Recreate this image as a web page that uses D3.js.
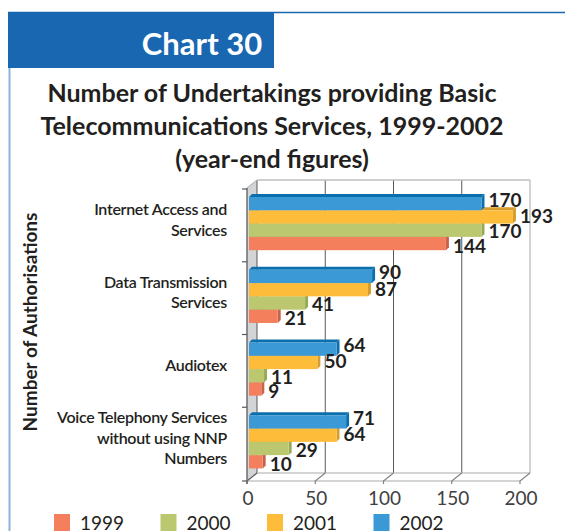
<!DOCTYPE html>
<html lang="en">
<head>
<meta charset="UTF-8">
<title>Chart 30</title>
<script src="https://d3js.org/d3.v7.min.js"></script>
<style>
  body { margin: 0; background: #fff; }
  svg { display: block; font-family: Lato, "Open Sans", sans-serif; }
</style>
</head>
<body>
<script>
// data
const categories = [
  ["Internet Access and", "Services"],
  ["Data Transmission", "Services"],
  ["Audiotex"],
  ["Voice Telephony Services", "without using NNP", "Numbers"]
];
const years = ["1999", "2000", "2001", "2002"];
const values1999 = [144, 21, 9, 10];
const values2000 = [170, 41, 11, 29];
const values2001 = [193, 87, 50, 64];
const values2002 = [170, 90, 64, 71];
const xTicks = [0, 50, 100, 150, 200];

const width = 565, height = 531;
const ink = "#231f20";
const front = { "1999": "#f47f5d", "2000": "#bbc86f", "2001": "#fdbc3a", "2002": "#3b9ad6" };
const shade = { "1999": "#c9624a", "2000": "#98a956", "2001": "#d79d2c", "2002": "#0b6fae" };
const labelDy = { "1999": 9, "2000": 8, "2001": 6, "2002": 3 };

const series = years.map((yr, i) => ({
  year: yr,
  values: [values1999, values2000, values2001, values2002][i]
}));

const svg = d3.select("body").append("svg")
  .attr("width", width)
  .attr("height", height);

svg.append("rect").attr("width", width).attr("height", height).attr("fill", "#fff");

// header band
svg.append("rect")
  .attr("x", 8).attr("y", 12).attr("width", 266).attr("height", 56)
  .attr("fill", "#1a67b1");
svg.append("line")
  .attr("x1", 8).attr("x2", width).attr("y1", 12.5).attr("y2", 12.5)
  .attr("stroke", "#1a67b1").attr("stroke-width", 1.5);
svg.append("line")
  .attr("x1", 9.5).attr("x2", 9.5).attr("y1", 68).attr("y2", height)
  .attr("stroke", "#8db3dc").attr("stroke-width", 2);
svg.append("text")
  .attr("x", 202).attr("y", 55)
  .attr("text-anchor", "middle")
  .attr("fill", "#fff").attr("font-weight", 700).attr("font-size", 31)
  .text("Chart 30");

const titleLines = [
  "Number of Undertakings providing Basic",
  "Telecommunications Services, 1999-2002",
  "(year-end figures)"
];
svg.append("g").selectAll("text")
  .data(titleLines)
  .enter().append("text")
  .attr("x", 272)
  .attr("y", (d, i) => 102 + i * 33)
  .attr("text-anchor", "middle")
  .attr("fill", ink).attr("font-weight", 700).attr("font-size", 25)
  .text(d => d);

// scales
const xAxis = d3.scaleLinear().domain([0, 200]).range([247, 520]);
const xBar = d3.scaleLinear().domain([0, 200]).range([249, 522.5]);
const y = d3.scaleBand().domain(d3.range(categories.length)).range([189, 480]);
const inner = d3.scaleBand().domain(["2002", "2001", "2000", "1999"]).range([8, 61.2]);

const dx = 10, dy = -8;       // depth of the plot box
const yTop = 188, yFloor = 481;
const bd = 3;                 // depth of a bar

const frame = svg.append("g");

// left side wall
frame.append("polygon")
  .attr("points", [
    [xAxis(0), yTop], [xAxis(0) + dx, yTop + dy],
    [xAxis(0) + dx, yFloor + dy], [xAxis(0), yFloor]
  ].join(" "))
  .attr("fill", "#d3d4d6");

// back wall grid lines
frame.selectAll(".grid")
  .data(xTicks)
  .enter().append("line")
  .attr("x1", d => xAxis(d) + dx).attr("x2", d => xAxis(d) + dx)
  .attr("y1", yTop + dy).attr("y2", yFloor + dy)
  .attr("stroke", d => d === 200 ? "#a7a9ac" : "#58595b")
  .attr("stroke-width", 1);
frame.append("line")
  .attr("x1", xAxis(0) + dx).attr("x2", xAxis(200) + dx)
  .attr("y1", yTop + dy).attr("y2", yTop + dy)
  .attr("stroke", "#bcbec0").attr("stroke-width", 1.5);
frame.append("line")
  .attr("x1", xAxis(0)).attr("x2", xAxis(0) + dx)
  .attr("y1", yTop).attr("y2", yTop + dy)
  .attr("stroke", "#a7a9ac");

// floor
frame.append("line")
  .attr("x1", xAxis(0) + dx).attr("x2", xAxis(200) + dx)
  .attr("y1", yFloor + dy).attr("y2", yFloor + dy)
  .attr("stroke", "#a7a9ac").attr("stroke-width", 1.2);
frame.append("line")
  .attr("x1", xAxis(0)).attr("x2", xAxis(200))
  .attr("y1", yFloor).attr("y2", yFloor)
  .attr("stroke", "#a7a9ac").attr("stroke-width", 1.2);
frame.selectAll(".floortick")
  .data(xTicks)
  .enter().append("polyline")
  .attr("points", d => [[xAxis(d), yFloor + 3], [xAxis(d), yFloor], [xAxis(d) + dx, yFloor + dy]].join(" "))
  .attr("fill", "none")
  .attr("stroke", d => d === 0 ? "#58595b" : "#808285")
  .attr("stroke-width", 1.2);

// left axis line and ticks
frame.append("line")
  .attr("x1", xAxis(0)).attr("x2", xAxis(0))
  .attr("y1", yTop).attr("y2", yFloor + 3)
  .attr("stroke", "#6d6e71").attr("stroke-width", 1.5);
frame.selectAll(".ytick")
  .data(d3.range(categories.length + 1))
  .enter().append("line")
  .attr("x1", xAxis(0) - 5).attr("x2", xAxis(0))
  .attr("y1", d => d < categories.length ? y(d) : yFloor)
  .attr("y2", d => d < categories.length ? y(d) : yFloor)
  .attr("stroke", "#58595b").attr("stroke-width", 1.2);

// bars, drawn from the bottom bar up so upper bars cover lower top faces
const bars = svg.append("g");
categories.forEach((cat, ci) => {
  ["1999", "2000", "2001", "2002"].forEach(yr => {
    const s = series.find(d => d.year === yr);
    const v = s.values[ci];
    const x0 = xBar(0), x1 = xBar(v);
    const y0 = y(ci) + inner(yr), h = inner.bandwidth();
    const g = bars.append("g");
    g.append("polygon")
      .attr("points", [[x0, y0], [x0 + bd, y0 - bd], [x1 + bd, y0 - bd], [x1, y0]].join(" "))
      .attr("fill", shade[yr]);
    g.append("polygon")
      .attr("points", [[x1, y0], [x1 + bd, y0 - bd], [x1 + bd, y0 + h - bd], [x1, y0 + h]].join(" "))
      .attr("fill", shade[yr]);
    g.append("rect")
      .attr("x", x0).attr("y", y0)
      .attr("width", x1 - x0).attr("height", h)
      .attr("fill", front[yr]);
  });
});

// value labels
const labels = svg.append("g");
categories.forEach((cat, ci) => {
  series.forEach(s => {
    const v = s.values[ci];
    labels.append("text")
      .attr("x", xBar(v) + 7)
      .attr("y", y(ci) + inner(s.year) + inner.bandwidth() / 2 + labelDy[s.year])
      .attr("fill", ink).attr("font-weight", 700).attr("font-size", 19)
      .text(v);
  });
});

// category labels
const catG = svg.append("g");
categories.forEach((lines, ci) => {
  const c = y(ci) + y.bandwidth() / 2;
  catG.append("text")
    .attr("text-anchor", "end")
    .attr("fill", ink).attr("font-weight", 600).attr("font-size", 16)
    .attr("letter-spacing", -0.3)
    .selectAll("tspan")
    .data(lines)
    .enter().append("tspan")
    .attr("x", 227)
    .attr("y", (d, i) => c - (lines.length - 1) * 10.25 + i * 20.5)
    .text(d => d);
});

// x tick labels
svg.append("g").selectAll("text")
  .data(xTicks)
  .enter().append("text")
  .attr("x", d => xAxis(d) + 1)
  .attr("y", 505)
  .attr("text-anchor", "middle")
  .attr("fill", "#414042").attr("font-size", 19)
  .text(d => d);

// axis title
svg.append("text")
  .attr("transform", "translate(37,322) rotate(-90)")
  .attr("text-anchor", "middle")
  .attr("fill", ink).attr("font-weight", 700).attr("font-size", 19)
  .text("Number of Authorisations");

// legend
const legend = svg.append("g").selectAll("g")
  .data(years)
  .enter().append("g")
  .attr("transform", (d, i) => `translate(${54 + i * 106.5},514)`);
legend.append("rect")
  .attr("width", 16).attr("height", 17)
  .attr("fill", d => front[d]);
legend.append("text")
  .attr("x", 26).attr("y", 16)
  .attr("fill", ink).attr("font-size", 19)
  .text(d => d);
</script>
</body>
</html>
